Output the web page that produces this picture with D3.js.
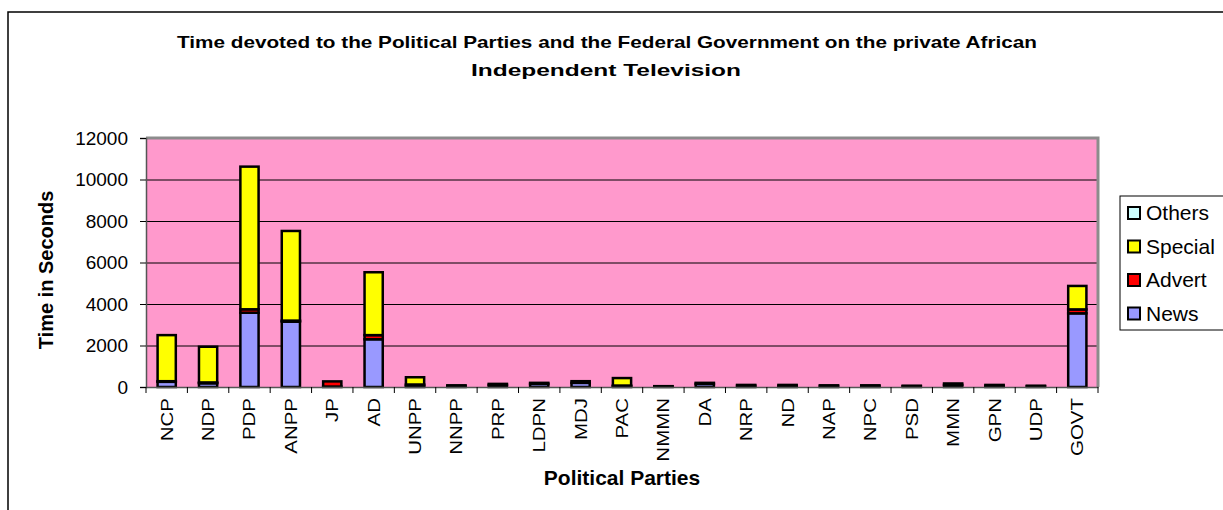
<!DOCTYPE html>
<html>
<head>
<meta charset="utf-8">
<script src="https://cdn.jsdelivr.net/npm/d3@7/dist/d3.min.js"></script>
<style>
  body { margin: 0; background: #fff; }
  text { font-family: Arial, "Liberation Sans", sans-serif; }
</style>
</head>
<body>
<div id="chart"></div>
<script>
// party categories and seconds per type of coverage
const parties = ["NCP", "NDP", "PDP", "ANPP", "JP", "AD", "UNPP", "NNPP", "PRP", "LDPN", "MDJ", "PAC",
  "NMMN", "DA", "NRP", "ND", "NAP", "NPC", "PSD", "MMN", "GPN", "UDP", "GOVT"];
const news =    [250, 180, 3580, 3150, 20, 2300, 60, 50, 100, 150, 200, 40, 30, 150, 60, 60, 50, 50, 40, 100, 60, 40, 3550];
const advert =  [30, 40, 165, 50, 250, 200, 60, 30, 50, 50, 80, 30, 10, 50, 40, 40, 30, 30, 20, 70, 40, 20, 190];
const special = [2220, 1720, 6875, 4320, 0, 3030, 350, 0, 0, 0, 0, 360, 0, 0, 0, 0, 0, 0, 0, 0, 0, 0, 1130];
const others =  [0, 0, 0, 0, 0, 0, 0, 0, 0, 0, 0, 0, 0, 0, 0, 0, 0, 0, 0, 0, 0, 0, 0];
const yTicks = [0, 2000, 4000, 6000, 8000, 10000, 12000];

const seriesKeys = ["News", "Advert", "Special", "Others"];
const colors = { News: "#9999FF", Advert: "#FF0000", Special: "#FFFF00", Others: "#CCFFFF" };

const W = 1223, H = 510;
const margin = { top: 138, left: 146, right: 125, bottom: 123 };
const width = W - margin.left - margin.right;
const height = H - margin.top - margin.bottom;

const table = parties.map((p, i) => ({ party: p, News: news[i], Advert: advert[i], Special: special[i], Others: others[i] }));
const stacked = d3.stack().keys(seriesKeys)(table);

const svg = d3.select("#chart").append("svg").attr("width", W).attr("height", H);

// outer chart frame
svg.append("path").attr("d", `M8,${H} V12 H${W}`).attr("fill", "none").attr("stroke", "#000").attr("stroke-width", 1.5);

// title
const title = svg.append("text").attr("text-anchor", "middle").attr("font-size", 17).attr("font-weight", "bold");
title.append("tspan").attr("x", 607).attr("y", 48).attr("textLength", 860).attr("lengthAdjust", "spacingAndGlyphs")
  .text("Time devoted to the Political Parties and the Federal Government on the private African");
title.append("tspan").attr("x", 606).attr("y", 76).attr("textLength", 270).attr("lengthAdjust", "spacingAndGlyphs")
  .text("Independent Television");

const g = svg.append("g").attr("transform", `translate(${margin.left},${margin.top})`);

const x = d3.scaleBand().domain(parties).range([0, width]).padding(0);
const y = d3.scaleLinear().domain([0, 12000]).range([height, 0]);

g.append("rect").attr("width", width).attr("height", height).attr("fill", "#FF99CC");

// gridlines
g.append("g")
  .call(d3.axisLeft(y).tickValues(yTicks).tickSize(-width).tickFormat(""))
  .call(s => s.select(".domain").remove())
  .selectAll("line").attr("stroke", "#000").attr("stroke-width", 1);

// plot frame (gray)
g.append("path").attr("d", `M0,0 H${width} V${height}`).attr("fill", "none").attr("stroke", "#8c8c8c").attr("stroke-width", 3);

// bars
const bw = x.bandwidth();
g.selectAll(".layer").data(stacked).enter().append("g")
  .attr("fill", d => colors[d.key])
  .selectAll("rect").data(d => d).enter().append("rect")
  .attr("x", d => x(d.data.party) + bw * 0.28)
  .attr("width", bw * 0.44)
  .attr("y", d => y(d[1]))
  .attr("height", d => y(d[0]) - y(d[1]))
  .attr("stroke", "#000").attr("stroke-width", 2.5)
  .style("display", d => d[1] - d[0] > 0 ? null : "none");

// y axis
const yAxis = g.append("g")
  .call(d3.axisLeft(y).tickValues(yTicks).tickSize(6).tickPadding(12).tickFormat(d3.format("d")));
yAxis.select(".domain").attr("stroke", "#555").attr("stroke-width", 1.5);
yAxis.selectAll("text").attr("font-size", 19).attr("fill", "#000").attr("font-family", "Arial, 'Liberation Sans', sans-serif");

// x axis
const xAxis = g.append("g").attr("transform", `translate(0,${height})`)
  .call(d3.axisBottom(x).tickSize(0).tickPadding(0));
xAxis.select(".domain").attr("stroke", "#555").attr("stroke-width", 1.5);
xAxis.selectAll("text")
  .attr("font-size", 16).attr("fill", "#000").attr("font-family", "Arial, 'Liberation Sans', sans-serif")
  .attr("text-anchor", "end").attr("dy", null).attr("y", 0)
  .attr("transform", "translate(6,11) rotate(-90) scale(1.28,1)");
// boundary ticks between categories
xAxis.selectAll(".bound").data(parties.concat(["__end"])).enter().append("line")
  .attr("x1", d => d === "__end" ? width : x(d)).attr("x2", d => d === "__end" ? width : x(d))
  .attr("y1", 0).attr("y2", 6).attr("stroke", "#000");

// axis titles
svg.append("text").attr("transform", "translate(53,270) rotate(-90)")
  .attr("text-anchor", "middle").attr("font-size", 20).attr("font-weight", "bold").text("Time in Seconds");
svg.append("text").attr("x", 622).attr("y", 485)
  .attr("text-anchor", "middle").attr("font-size", 21).attr("font-weight", "bold").text("Political Parties");

// legend
const lg = svg.append("g").attr("transform", "translate(1120,196)");
lg.append("rect").attr("width", 120).attr("height", 134).attr("fill", "#fff").attr("stroke", "#000");
const legendOrder = ["Others", "Special", "Advert", "News"];
const li = lg.selectAll(".li").data(legendOrder).enter().append("g")
  .attr("transform", (d, i) => `translate(0,${17 + i * 33.5})`);
li.append("rect").attr("x", 8).attr("y", -6).attr("width", 12).attr("height", 12)
  .attr("fill", d => colors[d]).attr("stroke", "#000").attr("stroke-width", 2);
li.append("text").attr("x", 26).attr("y", 7).attr("font-size", 21).text(d => d);
</script>
</body>
</html>
